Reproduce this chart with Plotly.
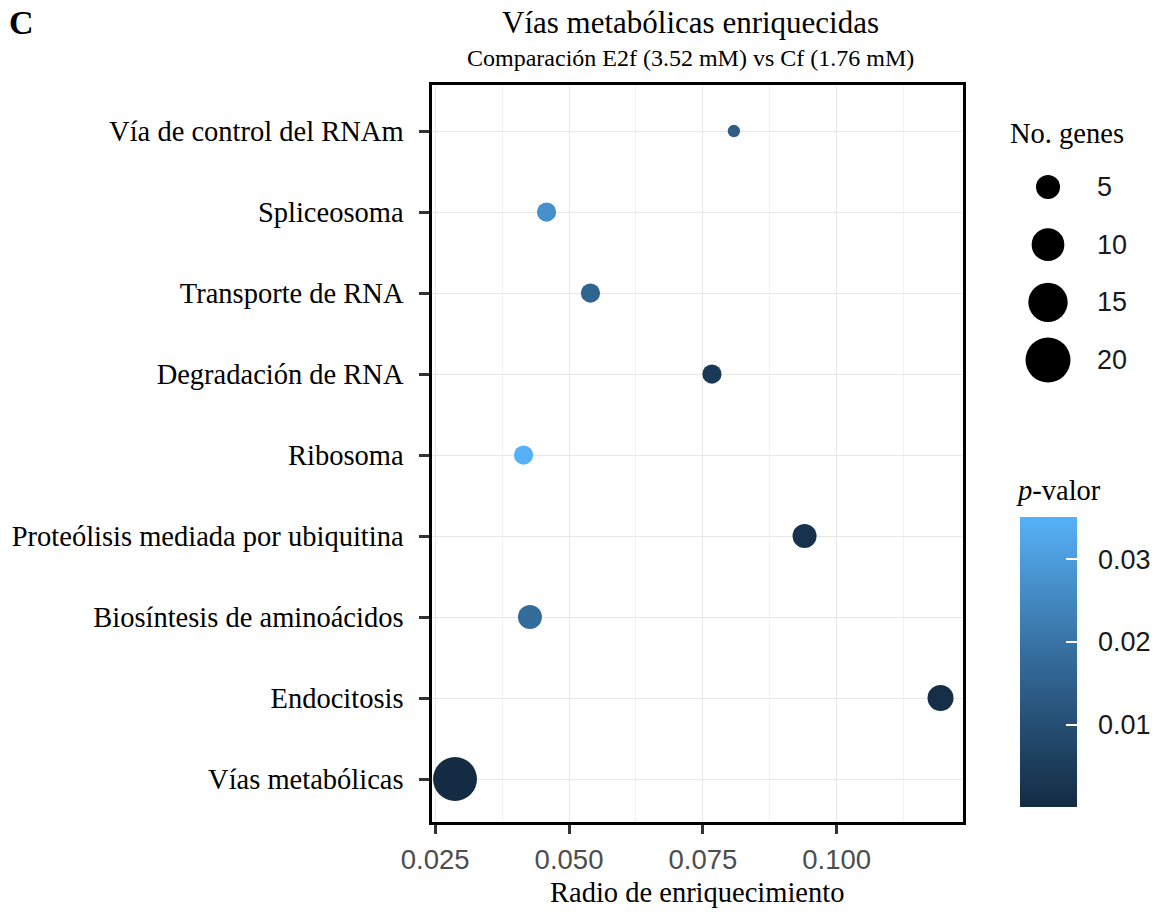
import numpy as np
import plotly.graph_objects as go

# ---------------- data ----------------
pathways = [
    "Vía de control del RNAm",
    "Spliceosoma",
    "Transporte de RNA",
    "Degradación de RNA",
    "Ribosoma",
    "Proteólisis mediada por ubiquitina",
    "Biosíntesis de aminoácidos",
    "Endocitosis",
    "Vías metabólicas",
]
ratio = [0.0808, 0.0458, 0.0540, 0.0767, 0.0415, 0.0940, 0.0427, 0.1194, 0.0287]
genes = [1, 3, 3, 3, 3, 5, 5, 6, 19]
pvalue = [0.014, 0.027, 0.016, 0.004, 0.0351, 0.002, 0.018, 0.001, 0.00002]
size_breaks = [5, 10, 15, 20]
x_ticks = [0.025, 0.050, 0.075, 0.100]
p_ticks = [0.01, 0.02, 0.03]

# ---------------- styling ----------------
W, H = 1156, 912
L, T = 432, 85
R = 10
B = H - 822
PW = W - L - R
PH = H - T - B
SERIF = "Liberation Serif, Times New Roman, serif"
SANS = "Liberation Sans, Arial, sans-serif"
colorscale = [[0, "#132B43"], [0.5, "#336A98"], [1, "#56B1F7"]]


def diam(n):
    return 3 + 9.39 * np.sqrt(np.asarray(n, dtype=float))


def px_x(px):  # pixel -> paper x
    return (px - L) / PW


def px_y(py):  # pixel -> paper y
    return (H - B - py) / PH


cbar_common = dict(
    x=px_x(1020), xanchor="left", xpad=0,
    y=px_y(662), yanchor="middle", ypad=0,
    len=290 / PH, lenmode="fraction",
    thickness=57, outlinewidth=0,
    tickvals=p_ticks, ticktext=[f"{v:.2f}" for v in p_ticks],
)

fig = go.Figure()

fig.add_trace(go.Scatter(
    x=ratio, y=pathways, mode="markers",
    marker=dict(
        size=diam(genes), sizemode="diameter",
        color=pvalue, colorscale=colorscale,
        cmin=min(pvalue), cmax=max(pvalue),
        line=dict(width=0), opacity=1,
        colorbar=dict(
            **cbar_common,
            ticks="outside", ticklen=16, tickcolor="rgba(0,0,0,0)",
            tickfont=dict(family=SANS, size=27, color="#1a1a1a"),
        ),
    ),
    showlegend=False, hoverinfo="x+y",
))

# overlay colorbar carrying the white inner tick marks
fig.add_trace(go.Scatter(
    x=[None], y=[None], mode="markers",
    marker=dict(
        color=[0], colorscale=colorscale, cmin=min(pvalue), cmax=max(pvalue),
        showscale=True,
        colorbar=dict(
            **cbar_common,
            ticks="inside", ticklen=11, tickcolor="white", tickwidth=1.5,
            showticklabels=False,
        ),
    ),
    showlegend=False, hoverinfo="skip",
))

# size legend (separate hidden axes)
fig.add_trace(go.Scatter(
    x=[48] * len(size_breaks), y=list(range(len(size_breaks))),
    mode="markers",
    marker=dict(size=diam(size_breaks), sizemode="diameter", color="black",
                line=dict(width=0), opacity=1),
    xaxis="x2", yaxis="y2", showlegend=False, hoverinfo="skip",
))

annotations = []
for i, b in enumerate(size_breaks):
    annotations.append(dict(
        x=95, y=i, xref="x2", yref="y2", text=str(b), showarrow=False,
        xanchor="left", yanchor="middle",
        font=dict(family=SANS, size=27, color="#1a1a1a"),
    ))

annotations += [
    dict(x=px_x(7), y=px_y(23), xref="paper", yref="paper", text="<b>C</b>",
         showarrow=False, xanchor="left", yanchor="middle",
         font=dict(family=SERIF, size=34, color="black")),
    dict(x=px_x(690), y=px_y(22), xref="paper", yref="paper",
         text="Vías metabólicas enriquecidas", showarrow=False,
         xanchor="center", yanchor="middle",
         font=dict(family=SERIF, size=31, color="black")),
    dict(x=px_x(690), y=px_y(58), xref="paper", yref="paper",
         text="Comparación E2f (3.52 mM) vs Cf (1.76 mM)", showarrow=False,
         xanchor="center", yanchor="middle",
         font=dict(family=SERIF, size=24, color="black")),
    dict(x=px_x(697), y=px_y(892), xref="paper", yref="paper",
         text="Radio de enriquecimiento", showarrow=False,
         xanchor="center", yanchor="middle",
         font=dict(family=SERIF, size=28.5, color="black")),
    dict(x=px_x(1067), y=px_y(133), xref="paper", yref="paper",
         text="No. genes", showarrow=False,
         xanchor="center", yanchor="middle",
         font=dict(family=SERIF, size=28.5, color="black")),
    dict(x=px_x(1014), y=px_y(490), xref="paper", yref="paper",
         text="<i>p</i>-valor", showarrow=False,
         xanchor="left", yanchor="middle",
         font=dict(family=SERIF, size=28.5, color="black")),
]

fig.update_layout(
    width=W, height=H,
    margin=dict(l=L, r=R, t=T, b=B, autoexpand=False),
    paper_bgcolor="white", plot_bgcolor="white",
    annotations=annotations,
    xaxis=dict(
        domain=[0, (963 - 432) / PW],
        range=[0.0244, 0.1236], automargin=False,
        tickvals=x_ticks, ticktext=[f"{v:.3f}" for v in x_ticks],
        tickfont=dict(family=SANS, size=27.5, color="#4D4D4D"),
        ticks="outside", ticklen=9, tickwidth=2.5, tickcolor="#333333",
        ticklabelstandoff=2,
        showgrid=True, gridcolor="#E8E8E8", gridwidth=1,
        minor=dict(dtick=0.0125, tick0=0.025, showgrid=True,
                   gridcolor="#F1F1F1", gridwidth=1, ticks=""),
        showline=True, linecolor="black", linewidth=2.5, mirror=True,
        zeroline=False,
    ),
    yaxis=dict(
        type="category", categoryorder="array", categoryarray=pathways,
        range=[len(pathways) - 1 + 0.53, -0.568], automargin=False,
        tickfont=dict(family=SERIF, size=28.5, color="black"),
        ticks="outside", ticklen=10, tickwidth=2.5, tickcolor="#333333",
        ticklabelstandoff=10,
        showgrid=True, gridcolor="#E8E8E8", gridwidth=1,
        showline=True, linecolor="black", linewidth=2.5, mirror=True,
        zeroline=False,
    ),
    xaxis2=dict(domain=[px_x(1000), 1.0], range=[0, W - R - 1000], anchor="y2",
                visible=False, fixedrange=True, automargin=False),
    yaxis2=dict(domain=[px_y(390), px_y(160)], range=[3.52, -0.468], anchor="x2",
                visible=False, fixedrange=True, automargin=False),
)

fig.write_html(
    "out.html",
    config={"displayModeBar": False},
    post_script="document.body.style.margin='0';document.body.style.overflow='hidden';",
)
